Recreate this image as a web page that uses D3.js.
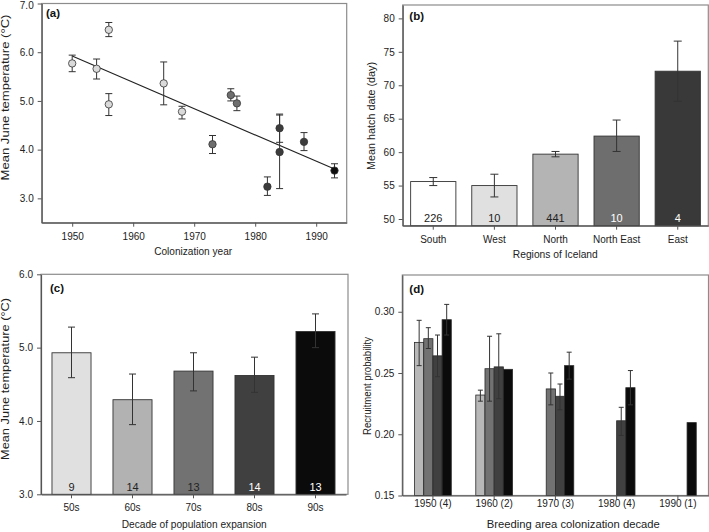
<!DOCTYPE html>
<html><head><meta charset="utf-8">
<script src="https://cdn.jsdelivr.net/npm/d3@7/dist/d3.min.js"></script>
<style>
body{margin:0;background:#fff;}
svg{display:block;font-family:"Liberation Sans",Arial,sans-serif;}
</style></head>
<body><svg id="c" width="709" height="532"></svg>
<script>
// ---------- Panel (a) data ----------
const aYears = [1950,1954,1956,1956,1965,1968,1973,1976,1977,1982,1984,1984,1988,1993];
const aTemps = [5.77,5.66,6.46,4.93,5.36,4.78,4.11,5.12,4.95,3.24,4.44,3.95,4.16,3.57];
const aLow   = [5.60,5.45,6.32,4.70,4.92,4.63,3.92,5.00,4.80,3.06,4.15,3.20,3.98,3.42];
const aHigh  = [5.94,5.86,6.61,5.15,5.80,4.89,4.29,5.25,5.10,3.44,4.73,4.71,4.35,3.71];
const aShade = [0,0,0,0,0,0,1,1,1,2,2,2,2,3];
const aTrendX = [1950,1993];
const aTrendY = [5.92,3.60];
const aXTicks = [1950,1960,1970,1980,1990];
const aYTicks = [3,4,5,6,7];

// ---------- Panel (b) data ----------
const regions   = ["South","West","North","North East","East"];
const hatchMean = [55.6,55.0,59.7,62.4,72.1];
const hatchLow  = [55.0,53.3,59.3,60.1,67.6];
const hatchHigh = [56.2,56.7,60.1,64.8,76.6];
const hatchN    = [226,10,441,10,4];
const bYTicks   = [50,55,60,65,70,75,80];

// ---------- Panel (c) data ----------
const decades  = ["50s","60s","70s","80s","90s"];
const decTemp  = [4.93,4.29,4.68,4.62,5.22];
const decLow   = [4.59,3.95,4.41,4.39,5.00];
const decHigh  = [5.28,4.64,4.93,4.87,5.46];
const decN     = [9,14,13,14,13];
const cYTicks  = [3,4,5,6];

// ---------- Panel (d) data ----------
const dGroups = ["1950 (4)","1960 (2)","1970 (3)","1980 (4)","1990 (1)"];
const dSeries = ["s1","s2","s3","s4"];
const rec1 = [0.275,0.232,null,null,null];
const rec1Low = [0.256,0.227,null,null,null];
const rec1High = [0.293,0.236,null,null,null];
const rec2 = [0.278,0.2535,0.237,null,null];
const rec2Low = [0.270,0.227,0.224,null,null];
const rec2High = [0.287,0.280,0.250,null,null];
const rec3 = [0.264,0.255,0.231,0.211,null];
const rec3Low = [0.247,0.229,0.220,0.199,null];
const rec3High = [0.281,0.282,0.241,0.222,null];
const rec4 = [0.2935,0.253,0.256,0.238,0.2095];
const rec4Low = [0.281,null,0.245,0.224,null];
const rec4High = [0.306,null,0.267,0.252,null];
const dYTicks = [0.15,0.20,0.25,0.30];

// ---------- styles ----------
const FRAME = "#8c8c8c", AXIS = "#555", TXT = "#222", ERR = "#333";
const pointFill = ["#dadada","#6e6e6e","#3c3c3c","#0f0f0f"];
const bFill = ["#ffffff","#e0e0e0","#b4b4b4","#6e6e6e","#393939"];
const bNumCol = ["#222","#222","#222","#fff","#fff"];
const cFill = ["#e0e0e0","#b2b2b2","#727272","#404040","#0b0b0b"];
const cNumCol = ["#222","#222","#222","#fff","#fff"];
const dFill = ["#b8b8b8","#727272","#404040","#0b0b0b"];

const svg = d3.select("#c");

function frame(p){
  svg.append("rect").attr("x",p.l).attr("y",p.t).attr("width",p.r-p.l).attr("height",p.b-p.t)
    .attr("fill","none").attr("stroke",FRAME).attr("stroke-width",1.2);
}
function styleAxis(g){
  g.selectAll("path.domain").attr("stroke",AXIS).attr("stroke-width",1.2);
  g.selectAll(".tick line").attr("stroke",AXIS);
  g.selectAll(".tick text").attr("fill",TXT).attr("font-size","10px")
    .attr("font-family","'Liberation Sans',Arial,sans-serif");
}
function yAxis(p, y, ticks, fmt){
  const g = svg.append("g").attr("transform",`translate(${p.l},0)`)
    .call(d3.axisLeft(y).tickValues(ticks).tickFormat(fmt).tickSize(4).tickPadding(4).tickSizeOuter(0));
  styleAxis(g);
  return g;
}
function xAxis(p, x, ticks, fmt, ty){
  const ax = d3.axisBottom(x).tickSize(4).tickPadding(4).tickSizeOuter(0);
  if (ticks) ax.tickValues(ticks);
  if (fmt) ax.tickFormat(fmt);
  const g = svg.append("g").attr("transform",`translate(0,${p.b})`).call(ax);
  styleAxis(g);
  g.selectAll(".tick text").attr("dy",null).attr("y", ty - p.b);
}
function titleX(txt, cx, by, len){
  svg.append("text").attr("x",cx).attr("y",by).attr("text-anchor","middle")
    .attr("font-size","10.5px").attr("fill",TXT)
    .attr("textLength",len).attr("lengthAdjust","spacingAndGlyphs").text(txt);
}
function titleY(txt, bx, cy, len){
  svg.append("text").attr("transform",`translate(${bx},${cy}) rotate(-90)`)
    .attr("text-anchor","middle").attr("font-size","10.5px").attr("fill",TXT)
    .attr("textLength",len).attr("lengthAdjust","spacingAndGlyphs").text(txt);
}
function panelLabel(txt, x, y){
  svg.append("text").attr("x",x).attr("y",y).attr("font-size","11.5px")
    .attr("font-weight","bold").attr("fill","#111").text(txt);
}
function errBar(x, lo, hi, hw){
  const g = svg.append("g").attr("stroke",ERR).attr("stroke-width",1);
  g.append("line").attr("x1",x).attr("x2",x).attr("y1",lo).attr("y2",hi);
  g.append("line").attr("x1",x-hw).attr("x2",x+hw).attr("y1",lo).attr("y2",lo);
  g.append("line").attr("x1",x-hw).attr("x2",x+hw).attr("y1",hi).attr("y2",hi);
}

// ================= Panel (a) =================
{
  const p = {l:41.7, r:346.7, t:3.5, b:222.7};
  const x = d3.scaleLinear().domain([1945,1995]).range([p.l,p.r]);
  const y = d3.scaleLinear().domain([2.5,7.0]).range([p.b,p.t]);
  frame(p);
  xAxis(p, x, aXTicks, d3.format("d"), 240);
  const ya = yAxis(p, y, aYTicks, d3.format(".1f"));
  // keep the top label ("7.0") inside the picture
  ya.selectAll(".tick text").filter(d=>d===7).attr("dy","0.5em");
  svg.append("path").datum(aTrendX.map((v,i)=>[v,aTrendY[i]]))
    .attr("d", d3.line().x(d=>x(d[0])).y(d=>y(d[1])))
    .attr("stroke","#222").attr("stroke-width",1.1).attr("fill","none");
  aYears.forEach((yr,i)=> errBar(x(yr), y(aLow[i]), y(aHigh[i]), 3.5));
  svg.append("g").selectAll("circle").data(aYears).join("circle")
    .attr("cx",d=>x(d)).attr("cy",(d,i)=>y(aTemps[i])).attr("r",3.7)
    .attr("fill",(d,i)=>pointFill[aShade[i]]).attr("stroke","#333").attr("stroke-width",0.8);
  titleX("Colonization year", 193.2, 255, 78);
  titleY("Mean June temperature (°C)", 8.5, 97.5, 166);
  panelLabel("(a)", 46, 16.5);
}

// ================= Panel (b) =================
{
  const p = {l:402.7, r:708.3, t:5, b:225.7};
  const x = d3.scaleBand().domain(regions).range([p.l,p.r]).paddingInner(0.26).paddingOuter(0.13);
  const y = d3.scaleLinear().domain([49,82]).range([p.b,p.t]);
  frame(p);
  svg.append("g").selectAll("rect").data(regions).join("rect")
    .attr("x",d=>x(d)).attr("width",x.bandwidth())
    .attr("y",(d,i)=>y(hatchMean[i])).attr("height",(d,i)=>p.b-y(hatchMean[i]))
    .attr("fill",(d,i)=>bFill[i]).attr("stroke","#333").attr("stroke-width",0.9);
  regions.forEach((r,i)=> errBar(x(r)+x.bandwidth()/2, y(hatchLow[i]), y(hatchHigh[i]), 4));
  svg.append("g").selectAll("text").data(regions).join("text")
    .attr("x",d=>x(d)+x.bandwidth()/2).attr("y",p.b-3.3).attr("text-anchor","middle")
    .attr("font-size","11px").attr("fill",(d,i)=>bNumCol[i]).text((d,i)=>hatchN[i]);
  xAxis(p, x, null, null, 242.7);
  yAxis(p, y, bYTicks, d3.format("d"));
  titleX("Regions of Iceland", 555.3, 257.5, 85);
  titleY("Mean hatch date (day)", 374.5, 116, 108);
  panelLabel("(b)", 409.3, 19.5);
}

// ================= Panel (c) =================
{
  const p = {l:41, r:348, t:274.3, b:494.3};
  const x = d3.scaleBand().domain(decades).range([p.l,346]).paddingInner(0.36).paddingOuter(0.18);
  const y = d3.scaleLinear().domain([3,6]).range([p.b,p.t]);
  frame(p);
  svg.append("g").selectAll("rect").data(decades).join("rect")
    .attr("x",d=>x(d)).attr("width",x.bandwidth())
    .attr("y",(d,i)=>y(decTemp[i])).attr("height",(d,i)=>p.b-y(decTemp[i]))
    .attr("fill",(d,i)=>cFill[i]).attr("stroke","#333").attr("stroke-width",0.9);
  decades.forEach((r,i)=> errBar(x(r)+x.bandwidth()/2, y(decLow[i]), y(decHigh[i]), 3.5));
  svg.append("g").selectAll("text").data(decades).join("text")
    .attr("x",d=>x(d)+x.bandwidth()/2).attr("y",p.b-3.3).attr("text-anchor","middle")
    .attr("font-size","11px").attr("fill",(d,i)=>cNumCol[i]).text((d,i)=>decN[i]);
  xAxis(p, x, null, null, 511.5);
  yAxis(p, y, cYTicks, d3.format(".1f"));
  titleX("Decade of population expansion", 194.2, 527.5, 145);
  titleY("Mean June temperature (°C)", 8.5, 379, 162);
  panelLabel("(c)", 50, 291.5);
}

// ================= Panel (d) =================
{
  const p = {l:402.3, r:708.5, t:275, b:495.5};
  const x0 = d3.scaleBand().domain(dGroups).range([p.l,p.r]).paddingInner(0.4).paddingOuter(0.2);
  const x1 = d3.scaleBand().domain(dSeries).range([0,x0.bandwidth()]).padding(0);
  const y = d3.scaleLinear().domain([0.15,0.33]).range([p.b,p.t]);
  frame(p);
  const vals = [rec1,rec2,rec3,rec4], lows = [rec1Low,rec2Low,rec3Low,rec4Low], highs = [rec1High,rec2High,rec3High,rec4High];
  const recs = [];
  dGroups.forEach((g,gi)=> dSeries.forEach((s,si)=>{
    if (vals[si][gi] != null) recs.push({g, s, si, v:vals[si][gi], lo:lows[si][gi], hi:highs[si][gi]});
  }));
  svg.append("g").selectAll("rect").data(recs).join("rect")
    .attr("x",d=>x0(d.g)+x1(d.s)).attr("width",x1.bandwidth())
    .attr("y",d=>y(d.v)).attr("height",d=>p.b-y(d.v))
    .attr("fill",d=>dFill[d.si]).attr("stroke","#2a2a2a").attr("stroke-width",0.8);
  recs.filter(d=>d.lo!=null).forEach(d=> errBar(x0(d.g)+x1(d.s)+x1.bandwidth()/2, y(d.lo), y(d.hi), 2.5));
  xAxis(p, x0, null, null, 507);
  yAxis(p, y, dYTicks, d3.format(".2f"));
  titleX("Breeding area colonization decade", 573.3, 528, 173);
  titleY("Recruitment probability", 371, 386, 98);
  panelLabel("(d)", 409.3, 292.5);
}
</script></body></html>
